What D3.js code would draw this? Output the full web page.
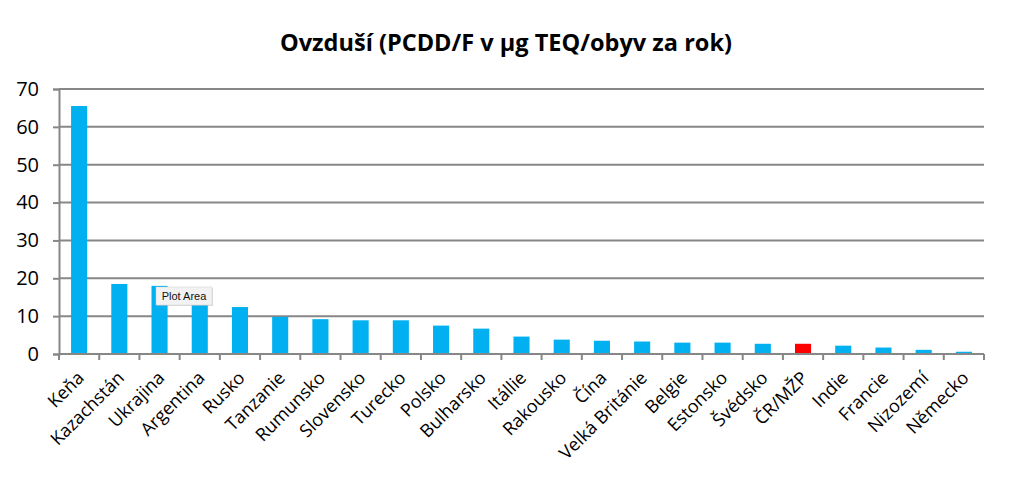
<!DOCTYPE html>
<html><head><meta charset="utf-8">
<script src="https://cdn.jsdelivr.net/npm/d3@7"></script>
<style>body{margin:0;background:#fff}svg{display:block}</style>
</head><body>
<svg id="c" width="1011" height="490"></svg>
<script>
const title = "Ovzduší (PCDD/F v μg TEQ/obyv za rok)";
const categories = ["Keňa","Kazachstán","Ukrajina","Argentina","Rusko","Tanzanie","Rumunsko","Slovensko","Turecko","Polsko","Bulharsko","Itállie","Rakousko","Čína","Velká Británie","Belgie","Estonsko","Švédsko","ČR/MŽP","Indie","Francie","Nizozemí","Německo"];
const values = [65.5,18.5,18.0,14.0,12.4,9.8,9.2,8.9,8.9,7.5,6.7,4.6,3.8,3.5,3.3,3.0,3.0,2.7,2.7,2.2,1.7,1.1,0.6];
const highlight = ["ČR/MŽP"];
const yTicks = [0,10,20,30,40,50,60,70];

const svg = d3.select("#c");
const m = {l:59, r:1011-984, t:89, b:490-354};
const W = 1011, H = 490;
const x = d3.scaleBand().domain(categories).range([m.l, W-m.r]).paddingInner(0.6).paddingOuter(0.3);
const y = d3.scaleLinear().domain([0,70]).range([H-m.b, m.t]);
const grey = "#878787";
const font = "'Open Sans', 'DejaVu Sans', sans-serif";

svg.append("text").attr("x", 506).attr("y", 51).attr("text-anchor","middle")
  .attr("font-family", font).attr("font-weight","bold").attr("font-size", 23.5)
  .attr("textLength", 452).attr("lengthAdjust","spacingAndGlyphs")
  .attr("fill","#000").text(title);

// gridlines
svg.append("g").selectAll("line").data(yTicks.filter(d=>d>0)).join("line")
  .attr("x1", m.l).attr("x2", W-m.r).attr("y1", d=>y(d)).attr("y2", d=>y(d))
  .attr("stroke", grey).attr("stroke-width", 2);

// y axis
const ya = svg.append("g").attr("transform",`translate(${m.l},0)`)
  .call(d3.axisLeft(y).tickValues(yTicks).tickSize(6).tickPadding(14));
ya.select(".domain").attr("stroke", grey).attr("stroke-width", 2);
ya.selectAll(".tick line").attr("stroke", grey).attr("stroke-width", 2);
ya.selectAll(".tick text").attr("font-family", font).attr("font-size", 20).attr("fill","#000");

// bars
svg.append("g").selectAll("rect").data(categories).join("rect")
  .attr("x", d=>x(d)).attr("width", x.bandwidth())
  .attr("y", (d,i)=>y(values[i])).attr("height", (d,i)=>y(0)-y(values[i]))
  .attr("fill", d=>highlight.includes(d) ? "#FF0000" : "#00B0F0");

// x axis with boundary ticks
const bounds = d3.range(categories.length+1).map(i => m.l + i*(W-m.l-m.r)/categories.length);
svg.append("line").attr("x1", m.l).attr("x2", W-m.r).attr("y1", y(0)).attr("y2", y(0))
  .attr("stroke", grey).attr("stroke-width", 2);
svg.append("g").selectAll("line").data(bounds).join("line")
  .attr("x1", d=>d).attr("x2", d=>d).attr("y1", y(0)).attr("y2", y(0)+6)
  .attr("stroke", grey).attr("stroke-width", 2);

svg.append("g").selectAll("text").data(categories).join("text")
  .attr("transform", d=>`translate(${x(d)+x.bandwidth()/2+6},${y(0)+25}) rotate(-45)`)
  .attr("text-anchor","end").attr("font-family", font).attr("font-size", 18)
  .attr("fill","#000").text(d=>d);

// tooltip artifact
const tt = svg.append("g").attr("transform","translate(156,287)");
tt.append("rect").attr("x",1).attr("y",1).attr("width",56).attr("height",18).attr("fill","#bbb").attr("opacity",0.5);
tt.append("rect").attr("width",56).attr("height",18).attr("fill","#f2f2f2").attr("stroke","#d0d0d0").attr("stroke-width",0.5);
tt.append("text").attr("x",28).attr("y",13).attr("text-anchor","middle")
  .attr("font-family","'Liberation Sans', Arial, sans-serif").attr("font-size",11).attr("fill","#111").text("Plot Area");
</script>
</body></html>
